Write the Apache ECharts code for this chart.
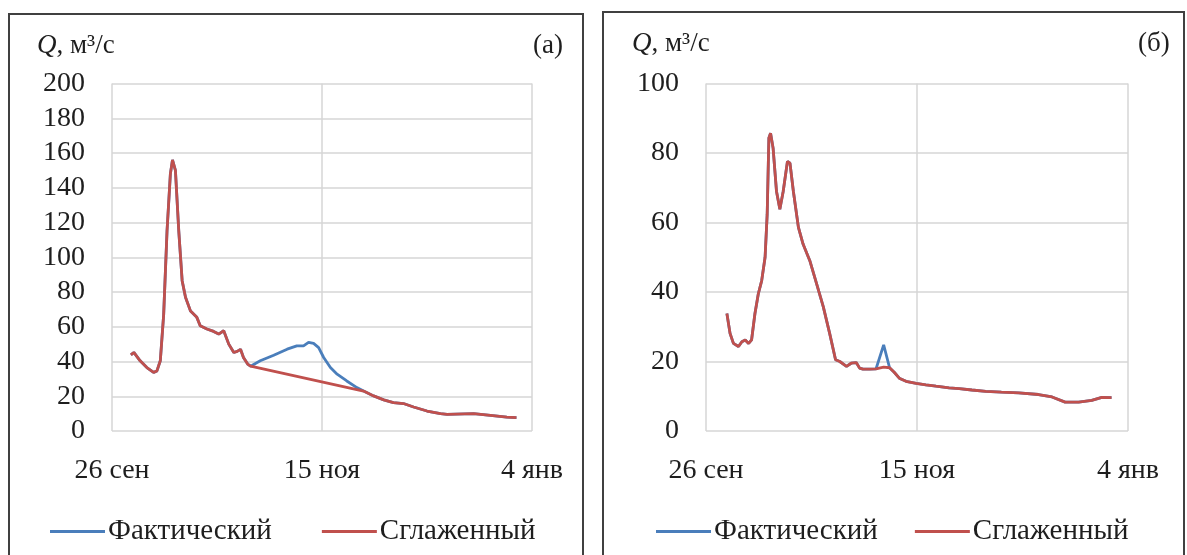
<!DOCTYPE html>
<html>
<head>
<meta charset="utf-8">
<script src="https://cdn.jsdelivr.net/npm/echarts@6/dist/echarts.min.js"></script>
<style>
html,body{margin:0;padding:0;background:#fff;}
#chart{width:1187px;height:555px;}
</style>
</head>
<body>
<div id="chart"></div>
<script>
// подписи оси X (дни от 26 сен)
var xTicks = ['26 сен', '15 ноя', '4 янв'];
var seriesNames = ['Фактический', 'Сглаженный'];

// (а) дни и расходы, м3/с
var daysA = [4.5, 5.2, 5.6, 6.7, 8.3, 9.9, 10.7, 11.5, 12.3, 13.1, 13.9, 14.4, 15.1, 15.9, 16.7, 17.5, 18.7, 20.2, 21, 22.6,
	24.2, 25.4, 26.6, 27.8, 29, 29.8, 30.6, 31.3, 32.3, 33.0,
	35.3, 38.5, 41.7, 44, 45.6, 46.8, 48, 49.2, 50.4, 52, 53.6, 55.9, 58.3,
	59.9, 62.3, 64.7, 67, 69.4, 71.8, 75, 78.2, 79.8, 86.1, 90.1, 94, 96.3];
var factA = [43.8, 45.2, 44.5, 40.4, 36.5, 33.7, 34.6, 40.4, 67, 115, 148, 156, 150, 115, 86.5, 77, 69, 65.4, 60.6, 58.7,
	57.3, 55.8, 57.7, 50, 45.2, 45.8, 47, 42.3, 38.5, 37.3,
	40.4, 43.6, 47.1, 49, 49, 51, 50.4, 48, 42.3, 36.5, 32.7, 28.8, 25,
	23, 20.2, 17.9, 16.3, 15.8, 13.8, 11.5, 10, 9.6, 10, 9, 8, 7.7];
var smoothA = [43.8, 45.2, 44.5, 40.4, 36.5, 33.7, 34.6, 40.4, 67, 115, 148, 156, 150, 115, 86.5, 77, 69, 65.4, 60.6, 58.7,
	57.3, 55.8, 57.7, 50, 45.2, 45.8, 47, 42.3, 38.5, 37.3,
	null, null, null, null, null, null, null, null, null, null, null, null, null,
	23, 20.2, 17.9, 16.3, 15.8, 13.8, 11.5, 10, 9.6, 10, 9, 8, 7.7];

// (б)
var daysB = [4.95, 5.7, 6.5, 7.7, 8.5, 9.3, 10.1, 10.8, 11.6, 12.4, 13.2, 14, 14.5, 14.9, 15.3, 15.9, 16.7, 17.5, 18.3, 19.3,
	19.9, 20.7, 21.9, 23, 24.6, 26.2, 27.8, 29.3, 30.7, 31.7, 33.3, 34.4, 35.6, 36.4, 37.2, 38.8, 40.3, 42.1, 43.5, 44.6,
	45.8, 47.4, 49.8, 52.1, 54.5, 57.6, 60, 63, 66.3, 70, 74.1, 78.8, 82, 85.1, 88.3, 91.4, 93.8, 96.1];
var factB = [33.8, 28.1, 25.2, 24.3, 25.7, 26.2, 25.2, 26.2, 33.8, 39.5, 43.3, 50, 62.4, 84.3, 85.7, 81.4, 69, 63.8, 69, 77.6,
	77.1, 69, 58.6, 53.8, 49, 42.4, 35.7, 28.1, 20.5, 20, 18.6, 19.5, 19.7, 18.1, 17.8, 17.8, 17.9, 24.8, 18.2, 16.9,
	15.2, 14.3, 13.7, 13.3, 12.9, 12.4, 12.2, 11.8, 11.4, 11.2, 11, 10.5, 9.8, 8.3, 8.3, 8.8, 9.7, 9.6];
var smoothB = [33.8, 28.1, 25.2, 24.3, 25.7, 26.2, 25.2, 26.2, 33.8, 39.5, 43.3, 50, 62.4, 84.3, 85.7, 81.4, 69, 63.8, 69, 77.6,
	77.1, 69, 58.6, 53.8, 49, 42.4, 35.7, 28.1, 20.5, 20, 18.6, 19.5, 19.7, 18.1, 17.8, 17.8, 17.9, 18.4, 18.2, 16.9,
	15.2, 14.3, 13.7, 13.3, 12.9, 12.4, 12.2, 11.8, 11.4, 11.2, 11, 10.5, 9.8, 8.3, 8.3, 8.8, 9.7, 9.6];

var FONT = 'Liberation Serif';
var BLUE = '#4A7EBB';
var RED = '#C0504D';
var TXT = '#1e1e1e';

function pairs(days, vals){
	var out = [];
	for(var i=0;i<days.length;i++){
		out.push([days[i], vals[i]]);
	}
	return out;
}

function xAxisCfg(idx){
	return {
		type:'value', gridIndex:idx, min:0, max:100, interval:50,
		axisLine:{show:false}, axisTick:{show:false},
		splitLine:{show:true, lineStyle:{color:'#D6D6D6', width:1.5}},
		axisLabel:{
			margin:26, fontFamily:FONT, fontSize:28, color:TXT,
			formatter:function(v){ return xTicks[Math.round(v/50)]; }
		}
	};
}
function yAxisCfg(idx, max){
	return {
		type:'value', gridIndex:idx, min:0, max:max, interval:20,
		axisLine:{show:false}, axisTick:{show:false},
		splitLine:{show:true, lineStyle:{color:'#D6D6D6', width:1.5}},
		axisLabel:{margin:27, fontFamily:FONT, fontSize:28, color:TXT}
	};
}
function lineSeries(name, idx, data, color, z){
	return {
		name:name, type:'line', xAxisIndex:idx, yAxisIndex:idx,
		data:data, showSymbol:false, connectNulls:true, z:z,
		lineStyle:{color:color, width:2.8}, itemStyle:{color:color},
		animation:false
	};
}
function titleCfg(left, top, text){
	return {
		left:left, top:top, text:text,
		textStyle:{fontFamily:FONT, fontSize:27, fontWeight:'normal', color:TXT,
			rich:{
				q:{fontFamily:FONT, fontSize:27, fontStyle:'italic', color:TXT},
				t:{fontFamily:FONT, fontSize:27, color:TXT}
			}
		}
	};
}
function legendCfg(left, gap){
	return {
		left:left, top:512, data:seriesNames, icon:'rect', itemWidth:55, itemHeight:3, itemGap:gap,
		textStyle:{fontFamily:FONT, fontSize:29, color:TXT, padding:[0,0,0,-2]},
		selectedMode:false
	};
}

var chart = echarts.init(document.getElementById('chart'));
var option = {
	backgroundColor:'#fff',
	animation:false,
	title:[
		titleCfg(32, 27, '{q|Q}{t|, м³/с}'),
		titleCfg(528, 27, '(а)'),
		titleCfg(627, 25, '{q|Q}{t|, м³/с}'),
		titleCfg(1133, 25, '(б)')
	],
	legend:[legendCfg(45, 50), legendCfg(651, 37)],
	grid:[
		{left:112, top:83.5, width:420, height:347.5},
		{left:706, top:83.5, width:422, height:347.5}
	],
	xAxis:[xAxisCfg(0), xAxisCfg(1)],
	yAxis:[yAxisCfg(0, 200), yAxisCfg(1, 100)],
	series:[
		lineSeries(seriesNames[0], 0, pairs(daysA, factA), BLUE, 2),
		lineSeries(seriesNames[1], 0, pairs(daysA, smoothA), RED, 3),
		lineSeries(seriesNames[0], 1, pairs(daysB, factB), BLUE, 2),
		lineSeries(seriesNames[1], 1, pairs(daysB, smoothB), RED, 3)
	],
	graphic:[
		{type:'rect', shape:{x:9, y:14, width:574, height:600}, style:{fill:null, stroke:'#404040', lineWidth:2}, silent:true},
		{type:'rect', shape:{x:603, y:12, width:581, height:600}, style:{fill:null, stroke:'#404040', lineWidth:2}, silent:true}
	]
};
chart.setOption(option);
</script>
</body>
</html>
